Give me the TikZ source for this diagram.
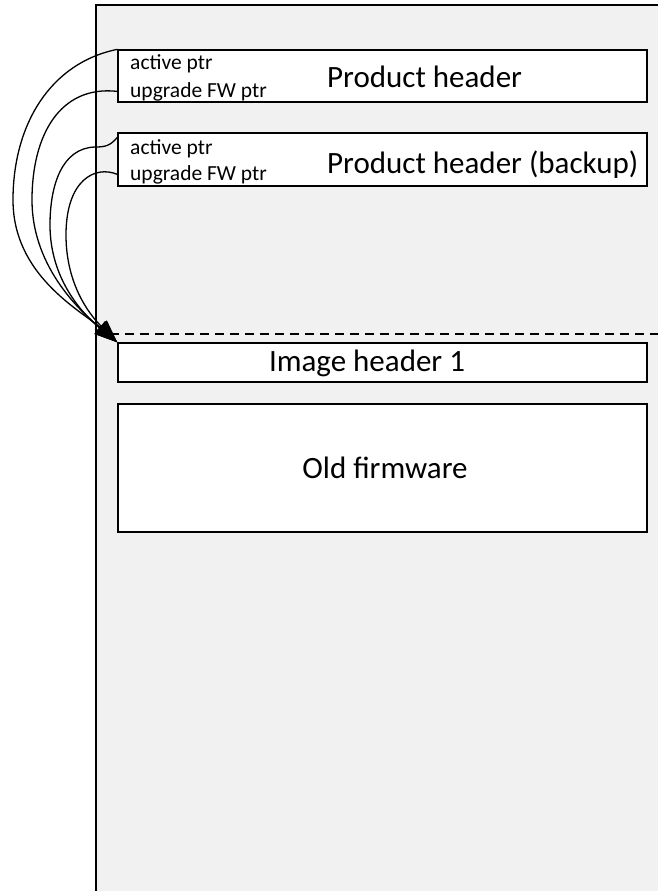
\documentclass[tikz,border=0pt]{standalone}
\usepackage{fontspec}
\setmainfont{Carlito}
\usetikzlibrary{arrows.meta, calc}
\definecolor{memgray}{HTML}{F1F1F1}
\tikzset{
    blk/.style={draw, fill=white, line width=1.3pt, minimum width=529pt, inner sep=0pt},
    big/.style={inner sep=0pt, font=\fontsize{31}{37}\selectfont},
    small/.style={inner sep=0pt, anchor=base west, font=\fontsize{21.5}{25}\selectfont},
    ptr/.style={line width=1.3pt, -{Triangle[length=23pt, width=16pt]}},
    sepline/.style={line width=1.3pt, dash pattern=on 9pt off 6pt}
}

\begin{document}
\begin{tikzpicture}[x=1pt, y=-1pt]
	\useasboundingbox (0,0) rectangle (658,891);
	\fill[memgray] (96,5) rectangle (658,891);
	\draw[line width=1.3pt] (96,891) -- (96,5) -- (658,5);
	
	\node (ph) [blk, minimum height=52pt] at (382.5, 76) {};
	\node (pb) [blk, minimum height=53pt] at (382.5, 159.5) {};
	\node (ih) [blk, minimum height=39pt] at (382.5, 362.5) {};
	\node (fw) [blk, minimum height=128pt] at (382.5, 468) {};
	
	\node (pa1) [small] at (130, 70) {active ptr};
	\node (pu1) [small] at (130, 97) {upgrade FW ptr};
	\node (pa2) [small] at (130, 154) {active ptr};
	\node (pu2) [small] at (130, 180) {upgrade FW ptr};
	
	\node (t1) [big, anchor=base west] at (327, 87) {Product header};
	\node (t2) [big, anchor=base west] at (327, 173) {Product header (backup)};
	\node (t3) [big, anchor=base] at (367, 371) {Image header 1};
	\node (t4) [big, anchor=base] at (385, 478) {Old firmware};
	
	\draw[sepline] (110,334) -- (658,334);
	
	\draw[ptr] (ph.north west) .. controls (50,63) and (13,125) .. (13,200)
		.. controls (13,275) and (80,310) .. (ih.north west);
	\draw[ptr] (ph.west |- pu1) .. controls (60,85) and (32,135) .. (32,200)
		.. controls (32,270) and (85,315) .. (ih.north west);
	\draw[ptr] ([yshift=-5pt]pb.north west) .. controls (110,146) and (105,147) .. (95,147)
		.. controls (62,148) and (50,185) .. (50,225)
		.. controls (50,285) and (90,320) .. (ih.north west);
	\draw[ptr] (pb.west |- pu2) .. controls (95,165) and (66,180) .. (66,235)
		.. controls (66,290) and (95,320) .. (ih.north west);
\end{tikzpicture}
\end{document}
